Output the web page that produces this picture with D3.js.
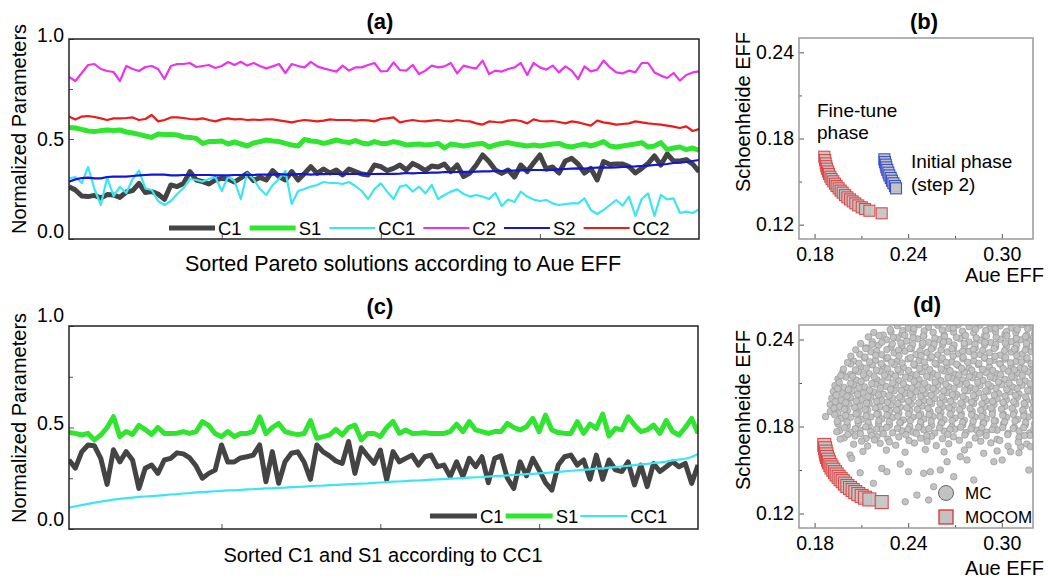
<!DOCTYPE html>
<html>
<head>
<meta charset="utf-8">
<script src="https://cdn.jsdelivr.net/npm/d3@7"></script>
<style>
  body { margin: 0; background: #fff; }
  text { font-family: "Liberation Sans", Arial, sans-serif; fill: #000; }
</style>
</head>
<body>
<svg id="chart" width="1048" height="578"></svg>
<script>
// ---- data: panel (a), sorted Pareto solutions (100 each) ----
const c1A = [0.262,0.245,0.215,0.212,0.218,0.205,0.222,0.22,0.208,0.235,0.242,0.278,0.232,0.237,0.225,0.198,0.27,0.262,0.278,0.337,0.295,0.287,0.275,0.295,0.303,0.3,
  0.285,0.305,0.328,0.292,0.308,0.295,0.342,0.312,0.295,0.337,0.295,0.328,0.362,0.328,0.35,0.33,0.345,0.32,0.35,0.337,0.325,0.32,0.37,0.362,
  0.342,0.353,0.37,0.345,0.378,0.362,0.342,0.365,0.36,0.375,0.337,0.37,0.312,0.33,0.37,0.42,0.387,0.345,0.328,0.345,0.31,0.37,0.337,0.38,0.42,
  0.35,0.36,0.33,0.39,0.403,0.375,0.33,0.353,0.295,0.387,0.372,0.375,0.375,0.362,0.33,0.353,0.378,0.415,0.37,0.425,0.39,0.39,0.397,0.375,0.337];
const s1A = [0.558,0.555,0.548,0.54,0.537,0.542,0.545,0.542,0.545,0.535,0.53,0.523,0.515,0.508,0.525,0.522,0.523,0.52,0.51,0.508,0.503,0.478,0.487,0.487,0.49,0.475,
  0.485,0.475,0.465,0.48,0.487,0.495,0.49,0.487,0.478,0.47,0.465,0.498,0.49,0.487,0.478,0.485,0.495,0.487,0.482,0.492,0.48,0.475,0.487,0.478,
  0.478,0.487,0.48,0.47,0.473,0.475,0.47,0.472,0.478,0.455,0.475,0.47,0.465,0.47,0.475,0.478,0.46,0.47,0.478,0.482,0.475,0.47,0.465,0.47,0.465,
  0.47,0.475,0.478,0.465,0.46,0.468,0.475,0.465,0.475,0.487,0.465,0.46,0.465,0.47,0.475,0.482,0.46,0.465,0.482,0.447,0.455,0.46,0.447,0.455,0.443];
const cc1A = [0.303,0.31,0.28,0.36,0.25,0.17,0.308,0.215,0.26,0.23,0.3,0.342,0.253,0.245,0.19,0.17,0.19,0.225,0.255,0.3,0.295,0.287,0.3,0.31,0.24,0.312,
  0.29,0.2,0.33,0.3,0.25,0.22,0.27,0.3,0.34,0.175,0.24,0.25,0.262,0.27,0.285,0.28,0.28,0.275,0.285,0.265,0.24,0.2,0.25,0.278,
  0.237,0.2,0.262,0.27,0.237,0.262,0.228,0.27,0.2,0.22,0.237,0.248,0.225,0.212,0.22,0.212,0.2,0.23,0.165,0.198,0.185,0.237,0.212,0.197,0.19,
  0.195,0.178,0.17,0.175,0.178,0.178,0.203,0.145,0.125,0.145,0.17,0.195,0.167,0.212,0.115,0.2,0.228,0.115,0.22,0.198,0.203,0.13,0.137,0.13,0.148];
const c2A = [0.81,0.79,0.83,0.87,0.875,0.85,0.84,0.835,0.79,0.865,0.85,0.84,0.86,0.865,0.85,0.80,0.865,0.875,0.875,0.88,0.86,0.865,0.87,0.855,0.865,0.885,
  0.87,0.886,0.867,0.88,0.865,0.853,0.863,0.875,0.83,0.875,0.865,0.858,0.886,0.863,0.853,0.845,0.837,0.867,0.842,0.858,0.858,0.87,0.88,0.838,
  0.84,0.883,0.845,0.842,0.87,0.825,0.842,0.867,0.858,0.863,0.88,0.828,0.867,0.858,0.853,0.892,0.825,0.842,0.837,0.85,0.858,0.88,0.82,0.88,0.858,
  0.847,0.867,0.833,0.863,0.842,0.80,0.863,0.838,0.847,0.892,0.858,0.833,0.828,0.842,0.833,0.88,0.88,0.833,0.817,0.805,0.83,0.792,0.82,0.833,0.838];
const s2A = [0.287,0.298,0.305,0.307,0.303,0.303,0.31,0.312,0.312,0.312,0.315,0.318,0.32,0.322,0.322,0.322,0.318,0.318,0.32,0.32,0.32,0.32,0.32,0.318,0.318,0.318,
  0.32,0.32,0.322,0.32,0.322,0.322,0.322,0.324,0.322,0.322,0.324,0.324,0.322,0.324,0.324,0.325,0.325,0.324,0.326,0.325,0.326,0.325,0.325,0.326,
  0.325,0.326,0.327,0.33,0.328,0.33,0.33,0.332,0.332,0.335,0.334,0.335,0.336,0.336,0.337,0.338,0.338,0.34,0.34,0.342,0.342,0.343,0.344,0.345,0.345,
  0.344,0.346,0.348,0.35,0.352,0.353,0.352,0.355,0.357,0.358,0.357,0.358,0.36,0.362,0.363,0.365,0.367,0.37,0.372,0.375,0.38,0.382,0.385,0.39,0.395];
const cc2A = [0.612,0.598,0.612,0.615,0.61,0.603,0.595,0.603,0.603,0.605,0.608,0.595,0.6,0.62,0.588,0.595,0.608,0.608,0.605,0.6,0.598,0.603,0.595,0.588,0.598,0.603,
  0.598,0.6,0.595,0.597,0.595,0.598,0.598,0.593,0.588,0.583,0.59,0.595,0.592,0.588,0.592,0.598,0.595,0.595,0.595,0.592,0.595,0.593,0.588,0.6,
  0.603,0.608,0.583,0.59,0.595,0.59,0.588,0.592,0.595,0.59,0.588,0.595,0.59,0.588,0.578,0.572,0.588,0.585,0.583,0.592,0.595,0.59,0.578,0.598,0.59,
  0.588,0.59,0.585,0.578,0.588,0.583,0.575,0.567,0.592,0.583,0.578,0.572,0.575,0.578,0.588,0.583,0.578,0.575,0.572,0.567,0.562,0.555,0.563,0.54,0.55];

// ---- data: panel (c), C1 and S1 sorted by CC1 ----
const c1C = [0.34,0.3,0.38,0.414,0.41,0.348,0.22,0.39,0.331,0.381,0.34,0.2,0.299,0.315,0.274,0.34,0.348,0.375,0.37,0.35,
  0.31,0.25,0.274,0.29,0.414,0.33,0.33,0.35,0.356,0.364,0.414,0.233,0.381,0.225,0.331,0.373,0.38,0.33,0.245,0.414,
  0.38,0.36,0.335,0.323,0.431,0.274,0.4,0.36,0.323,0.389,
  0.241,0.381,0.331,0.348,0.364,0.315,0.356,0.364,0.307,0.315,0.258,0.331,0.258,0.348,0.307,0.356,0.228,0.348,0.36,0.25,
  0.2,0.331,0.262,0.348,0.291,0.228,0.192,0.315,0.356,0.364,0.315,0.34,0.245,0.364,0.245,0.34,0.291,0.283,0.331,0.217,
  0.315,0.209,0.323,0.283,0.307,0.331,0.307,0.323,0.225,0.315];
const s1C = [0.476,0.471,0.463,0.471,0.439,0.463,0.5,0.553,0.455,0.48,0.466,0.51,0.49,0.466,0.5,0.471,0.471,0.472,0.48,0.471,
  0.48,0.529,0.51,0.47,0.455,0.48,0.455,0.47,0.471,0.48,0.553,0.47,0.5,0.52,0.48,0.471,0.465,0.47,0.534,0.447,
  0.455,0.463,0.491,0.463,0.5,0.512,0.439,0.471,0.471,0.455,
  0.5,0.53,0.471,0.488,0.471,0.472,0.474,0.471,0.471,0.471,0.48,0.517,0.48,0.529,0.488,0.48,0.471,0.48,0.48,0.52,
  0.5,0.488,0.504,0.545,0.48,0.561,0.488,0.475,0.471,0.471,0.529,0.471,0.517,0.496,0.566,0.458,0.496,0.488,0.553,0.512,
  0.48,0.488,0.512,0.471,0.534,0.48,0.463,0.5,0.545,0.471];
const cc1C = [0.105,0.112,0.118,0.124,0.13,0.135,0.14,0.145,0.148,0.152,0.155,0.158,0.16,0.162,0.164,0.167,0.17,0.172,0.175,0.177,
  0.18,0.182,0.184,0.186,0.188,0.19,0.191,0.193,0.195,0.196,0.198,0.2,0.201,0.203,0.204,0.206,0.207,0.209,0.211,0.213,
  0.214,0.216,0.217,0.219,0.221,0.222,0.224,0.225,0.227,0.229,0.231,0.233,0.234,0.236,0.238,0.239,0.241,0.243,0.244,0.246,
  0.248,0.249,0.251,0.253,0.255,0.256,0.258,0.26,0.262,0.264,0.266,0.268,0.27,0.272,0.274,0.276,0.279,0.281,0.284,0.287,
  0.289,0.291,0.294,0.297,0.299,0.302,0.305,0.308,0.311,0.315,0.318,0.321,0.325,0.328,0.332,0.338,0.342,0.346,0.355,0.369];

// ---- data: panels (b) and (d), Aue EFF vs Schoenheide EFF ----
const mocomAue = [0.1862,0.1867,0.1871,0.1875,0.1879,0.1886,0.1892,0.1901,0.1909,0.192,0.1931,0.1941,0.1954,0.1967,0.198,0.1995,0.201,0.2027,0.2044,0.2061,0.208,0.2102,0.2123,0.2151,0.223];
const mocomSch = [0.1673,0.165,0.1627,0.1608,0.159,0.1571,0.1553,0.1534,0.1518,0.1502,0.1485,0.1469,0.1453,0.1437,0.1423,0.1406,0.139,0.1376,0.1362,0.1348,0.1334,0.1321,0.1309,0.1297,0.1279];
const initAue = [0.2247,0.2251,0.2256,0.226,0.2266,0.2273,0.2279,0.2288,0.2296,0.2305,0.2315,0.2322];
const initSch = [0.1655,0.1636,0.1618,0.1599,0.1581,0.1562,0.1543,0.1525,0.1506,0.1488,0.1469,0.1453];

// Monte Carlo samples [Aue EFF, Schoenheide EFF]
const mcPoints = [
  [0.233,0.2495],[0.240,0.2478],[0.247,0.2502],[0.253,0.2485],[0.259,0.2498],[0.266,0.2476],[0.272,0.2501],[0.279,0.2488],[0.286,0.2499],[0.292,0.2472],[0.299,0.2494],[0.306,0.2481],[0.313,0.2503],[0.319,0.2486],
  [0.218,0.2448],[0.224,0.2431],[0.229,0.2452],[0.236,0.2437],[0.243,0.2445],[0.25,0.2425],[0.256,0.2449],[0.263,0.2433],[0.269,0.2451],[0.276,0.243],[0.282,0.2446],[0.289,0.2428],[0.296,0.2453],[0.302,0.2436],[0.309,0.2447],[0.316,0.2429],[0.321,0.2442],
  [0.217,0.2385],[0.226,0.2398],[0.233,0.2412],[0.239,0.2389],[0.246,0.2404],[0.253,0.2381],[0.26,0.2399],[0.266,0.2387],[0.273,0.2407],[0.279,0.2383],[0.286,0.2396],[0.293,0.2379],[0.299,0.2402],[0.306,0.2385],[0.312,0.2398],[0.318,0.2391],
  [0.213,0.2342],[0.221,0.2361],[0.229,0.2347],[0.236,0.2355],[0.242,0.2337],[0.249,0.2359],[0.256,0.2344],[0.262,0.2362],[0.269,0.2339],[0.276,0.2353],[0.283,0.2341],[0.289,0.2364],[0.296,0.2348],[0.303,0.2356],[0.309,0.2335],[0.316,0.2351],[0.321,0.2362],
  [0.209,0.2298],[0.216,0.2316],[0.223,0.2295],[0.231,0.2308],[0.238,0.2319],[0.245,0.2296],[0.252,0.2311],[0.259,0.2293],[0.265,0.2314],[0.272,0.2301],[0.279,0.2318],[0.286,0.2297],[0.292,0.2309],[0.299,0.2292],[0.306,0.2313],[0.313,0.2299],[0.319,0.2316],
  [0.205,0.2251],[0.212,0.2272],[0.219,0.2256],[0.226,0.2269],[0.233,0.2249],[0.24,0.2266],[0.247,0.2254],[0.254,0.2273],[0.261,0.2258],[0.268,0.2246],[0.275,0.2267],[0.282,0.2252],[0.289,0.2271],[0.295,0.2257],[0.302,0.2265],[0.309,0.2248],[0.316,0.2262],
  [0.203,0.2231],[0.21,0.2209],[0.217,0.2225],[0.224,0.2211],[0.231,0.2228],[0.237,0.2206],[0.244,0.2222],[0.251,0.2213],[0.258,0.2229],[0.265,0.2207],[0.272,0.2221],[0.279,0.2204],[0.285,0.2226],[0.292,0.2212],[0.299,0.2231],[0.306,0.2215],[0.312,0.2203],[0.319,0.2224],
  [0.198,0.2173],[0.203,0.2158],[0.208,0.2179],[0.215,0.2164],[0.222,0.2181],[0.229,0.2162],[0.235,0.2176],[0.242,0.2159],[0.249,0.2178],[0.256,0.2166],[0.263,0.2183],[0.27,0.2161],[0.276,0.2175],[0.283,0.2157],[0.29,0.2172],[0.297,0.2163],[0.304,0.2182],[0.31,0.2168],[0.317,0.2177],
  [0.195,0.2128],[0.2,0.2141],[0.207,0.2119],[0.213,0.2135],[0.22,0.2122],[0.227,0.2138],[0.234,0.2117],[0.241,0.2131],[0.247,0.2124],[0.254,0.2139],[0.261,0.2115],[0.268,0.2133],[0.275,0.2121],[0.281,0.2136],[0.288,0.2118],[0.295,0.2132],[0.302,0.2125],[0.308,0.2137],[0.315,0.2114],[0.321,0.2129],
  [0.193,0.2082],[0.199,0.2069],[0.205,0.2088],[0.212,0.2073],[0.219,0.2091],[0.226,0.2076],[0.232,0.2084],[0.239,0.2068],[0.246,0.2089],[0.253,0.2071],[0.259,0.2086],[0.266,0.2074],[0.273,0.2092],[0.28,0.2067],[0.286,0.2083],[0.293,0.2077],[0.3,0.209],[0.307,0.2072],[0.313,0.2085],[0.319,0.2069],
  [0.192,0.2041],[0.198,0.2027],[0.204,0.2045],[0.211,0.2031],[0.218,0.2038],[0.224,0.2023],[0.231,0.2047],[0.238,0.2029],[0.245,0.2042],[0.251,0.2026],[0.258,0.2044],[0.265,0.2033],[0.271,0.2021],[0.278,0.2046],[0.285,0.2032],[0.291,0.2043],[0.298,0.2028],[0.305,0.2039],[0.311,0.2024],[0.318,0.2045],
  [0.191,0.1994],[0.197,0.1981],[0.203,0.1999],[0.21,0.1984],[0.216,0.2002],[0.223,0.1978],[0.23,0.1996],[0.236,0.1986],[0.243,0.2001],[0.25,0.1979],[0.257,0.1993],[0.263,0.1983],[0.27,0.2003],[0.277,0.1988],[0.283,0.1997],[0.29,0.1976],[0.297,0.1992],[0.303,0.1985],[0.31,0.2001],[0.316,0.1982],[0.321,0.1996],
  [0.19,0.1952],[0.196,0.1938],[0.202,0.1955],[0.209,0.194],[0.215,0.1957],[0.222,0.1936],[0.229,0.1949],[0.235,0.1934],[0.242,0.1954],[0.249,0.1941],[0.255,0.1958],[0.262,0.1937],[0.269,0.195],[0.275,0.1943],[0.282,0.1959],[0.289,0.1935],[0.295,0.1951],[0.302,0.1939],[0.309,0.1956],[0.315,0.1942],[0.321,0.1953],
  [0.19,0.1903],[0.195,0.1891],[0.201,0.1909],[0.208,0.1894],[0.214,0.1912],[0.221,0.1888],[0.228,0.1906],[0.234,0.1893],[0.241,0.191],[0.248,0.1886],[0.254,0.1902],[0.261,0.1895],[0.268,0.1913],[0.274,0.1889],[0.281,0.1904],[0.288,0.1892],[0.294,0.1908],[0.301,0.1885],[0.308,0.19],[0.314,0.1896],[0.32,0.1911],
  [0.187,0.1868],[0.197,0.1855],[0.203,0.1863],[0.21,0.1849],[0.216,0.1866],[0.223,0.1852],[0.23,0.1861],[0.237,0.1845],[0.243,0.1864],[0.25,0.1851],[0.256,0.1869],[0.263,0.1846],[0.27,0.1858],[0.276,0.1843],[0.283,0.1865],[0.29,0.1853],[0.296,0.1839],[0.303,0.1862],[0.31,0.1848],[0.317,0.1866],
  [0.195,0.1818],[0.201,0.1806],[0.208,0.1822],[0.215,0.1803],[0.221,0.1817],[0.228,0.1809],[0.235,0.1825],[0.241,0.1801],[0.248,0.1814],[0.255,0.1807],[0.261,0.1821],[0.268,0.1798],[0.275,0.1812],[0.281,0.1804],[0.288,0.1823],[0.295,0.1802],[0.301,0.1816],[0.308,0.1795],[0.315,0.1811],[0.321,0.1818],
  [0.196,0.1772],[0.203,0.1759],[0.209,0.1776],[0.216,0.1764],[0.223,0.1779],[0.23,0.1757],[0.236,0.1771],[0.243,0.1762],[0.25,0.1778],[0.257,0.1755],[0.263,0.1768],[0.27,0.1781],[0.277,0.1758],[0.284,0.1773],[0.29,0.1761],[0.297,0.1775],[0.304,0.1753],[0.311,0.1769],[0.318,0.1756],
  [0.199,0.1722],[0.206,0.1735],[0.213,0.1718],[0.22,0.1731],[0.227,0.1714],[0.234,0.1728],[0.248,0.1719],[0.255,0.1733],[0.262,0.1716],[0.269,0.1729],[0.283,0.1721],[0.29,0.1736],[0.297,0.1712],[0.311,0.1725],[0.318,0.1739],
  [0.205,0.1678],[0.214,0.1665],[0.222,0.1684],[0.232,0.1671],[0.244,0.1686],[0.258,0.1668],[0.266,0.1681],[0.279,0.1673],[0.293,0.1687],[0.304,0.1664],[0.316,0.1679],
  [0.211,0.1628],[0.226,0.1637],[0.238,0.1622],[0.251,0.1641],[0.263,0.1625],[0.276,0.1638],[0.297,0.1631],[0.311,0.1619],
  [0.1942,0.1764],[0.1964,0.1713],[0.2027,0.1603],[0.2038,0.158],[0.2092,0.1481],[0.2177,0.1408],[0.2231,0.1511],[0.2263,0.1488],[0.2349,0.1541],[0.2381,0.1281],
  [0.2402,0.1488],[0.2456,0.1327],[0.2499,0.1477],[0.2531,0.1293],[0.2542,0.1488],[0.2563,0.1385],[0.2606,0.15],[0.2649,0.1557],[0.2692,0.1454],[0.2734,0.1592],
  [0.2777,0.1569],[0.282,0.1431],[0.2884,0.1615],[0.2949,0.1557],[0.3002,0.1569],[0.3056,0.1626],[0.312,0.1661],[0.3173,0.15],[0.3184,0.1661],
  [0.2285,0.2468],[0.2365,0.2461],[0.2437,0.2474],[0.2502,0.2459],[0.2618,0.2466],[0.2689,0.2479],[0.2748,0.2457],[0.2832,0.2471],[0.2897,0.2462],[0.2958,0.2477],[0.3031,0.2455],[0.3099,0.2469],[0.3166,0.2474],
  [0.2145,0.2418],[0.2213,0.2426],[0.2304,0.2415],[0.2378,0.2429],[0.2431,0.2412],[0.2497,0.2424],[0.2571,0.2409],[0.2632,0.2421],[0.2709,0.2414],[0.2768,0.2427],[0.2836,0.2411],[0.2901,0.2423],[0.2964,0.2416],[0.3033,0.2425],[0.3092,0.2408],[0.3152,0.242],[0.3205,0.2413],
  [0.2095,0.2372],[0.2168,0.2366],[0.2231,0.2381],[0.2298,0.2369],[0.2352,0.2377],[0.2428,0.2364],[0.2494,0.2375],[0.2566,0.2368],[0.2627,0.2383],[0.2694,0.2362],[0.2759,0.2374],[0.2828,0.2367],[0.2892,0.238],[0.2961,0.2365],[0.3022,0.2376],[0.3094,0.2361],[0.3158,0.2373],
  [0.2064,0.2329],[0.2129,0.2337],[0.2198,0.2322],[0.2263,0.2331],[0.2338,0.2326],[0.2411,0.2339],[0.2476,0.2321],[0.2548,0.2334],[0.2611,0.2328],[0.2681,0.2336],[0.2749,0.2319],[0.2818,0.2332],[0.2878,0.2325],[0.2951,0.2338],[0.3018,0.2323],[0.3082,0.2335],[0.3151,0.2327],[0.3212,0.2334],
  [0.2032,0.2285],[0.2123,0.2279],[0.2191,0.2291],[0.2268,0.2276],[0.2341,0.2287],[0.2414,0.2274],[0.2482,0.2289],[0.2551,0.2281],[0.2619,0.2272],[0.2688,0.2286],[0.2753,0.2278],[0.2822,0.2292],[0.2889,0.2275],[0.2957,0.2284],[0.3024,0.2277],[0.3096,0.2289],[0.3162,0.2273],
  [0.2011,0.2241],[0.2084,0.2236],[0.2152,0.2247],[0.2227,0.2233],[0.2293,0.2244],[0.2361,0.2238],[0.2436,0.2231],[0.2503,0.2245],[0.2572,0.2237],[0.2643,0.2242],[0.2711,0.2229],[0.2781,0.2243],[0.2853,0.2235],[0.2922,0.2248],[0.2988,0.2232],[0.3055,0.2239],[0.3126,0.2246],[0.3188,0.2234],
  [0.1985,0.2196],[0.2062,0.2191],[0.2131,0.2203],[0.2196,0.2188],[0.2267,0.2199],[0.2334,0.2193],[0.2402,0.2186],[0.2473,0.2201],[0.2538,0.2192],[0.2611,0.2197],[0.2669,0.2185],[0.2742,0.2202],[0.2808,0.2189],[0.2876,0.2195],[0.2942,0.2187],[0.3009,0.22],[0.3081,0.2191],[0.3146,0.2198],[0.3207,0.2186],
  [0.1968,0.2151],[0.2044,0.2146],[0.2113,0.2157],[0.2182,0.2143],[0.2248,0.2154],[0.2318,0.2148],[0.2383,0.2141],[0.2452,0.2156],[0.2519,0.2147],[0.2588,0.2153],[0.2655,0.2139],[0.2724,0.2155],[0.2791,0.2144],[0.2858,0.2152],[0.2926,0.2142],[0.2992,0.2158],[0.3063,0.2145],[0.3131,0.2153],[0.3195,0.2149],
  [0.1958,0.2104],[0.2031,0.2099],[0.2098,0.2111],[0.2166,0.2096],[0.2232,0.2108],[0.2301,0.2101],[0.2369,0.2094],[0.2438,0.211],[0.2504,0.2098],[0.2573,0.2106],[0.2641,0.2093],[0.2709,0.2109],[0.2774,0.2097],[0.2845,0.2105],[0.2912,0.2092],[0.2978,0.2108],[0.3047,0.2099],[0.3114,0.2107],[0.3181,0.2095],
  [0.1948,0.2061],[0.2017,0.2054],[0.2084,0.2066],[0.2153,0.2051],[0.2221,0.2063],[0.2287,0.2057],[0.2356,0.2049],[0.2423,0.2065],[0.2491,0.2053],[0.2559,0.2061],[0.2627,0.2047],[0.2694,0.2064],[0.2762,0.2052],[0.2829,0.2059],[0.2897,0.2046],[0.2963,0.2063],[0.3032,0.2055],[0.3099,0.2062],[0.3166,0.2049],
  [0.1939,0.2016],[0.2008,0.2009],[0.2076,0.2021],[0.2142,0.2006],[0.2209,0.2018],[0.2277,0.2012],[0.2346,0.2004],[0.2413,0.2019],[0.2481,0.2008],[0.2547,0.2016],[0.2616,0.2003],[0.2683,0.2019],[0.2751,0.2007],[0.2818,0.2014],[0.2886,0.2002],[0.2952,0.2018],[0.3021,0.201],[0.3088,0.2016],[0.3153,0.2005],[0.3208,0.2013],
  [0.1932,0.1971],[0.1999,0.1964],[0.2067,0.1976],[0.2133,0.1961],[0.2198,0.1973],[0.2266,0.1967],[0.2333,0.1959],[0.2402,0.1974],[0.2468,0.1963],[0.2536,0.1971],[0.2604,0.1958],[0.2671,0.1974],[0.2738,0.1962],[0.2806,0.1969],[0.2873,0.1957],[0.2941,0.1973],[0.3008,0.1965],[0.3076,0.1971],[0.3143,0.196],[0.3202,0.1968],
  [0.1924,0.1926],[0.1991,0.1919],[0.2057,0.1931],[0.2124,0.1916],[0.2189,0.1928],[0.2257,0.1922],[0.2325,0.1914],[0.2391,0.1929],[0.2459,0.1918],[0.2527,0.1926],[0.2594,0.1913],[0.2662,0.1929],[0.2729,0.1917],[0.2797,0.1924],[0.2864,0.1912],[0.2931,0.1928],[0.2998,0.192],[0.3066,0.1926],[0.3133,0.1915],[0.3197,0.1923],
  [0.1929,0.1881],[0.1998,0.1876],[0.2066,0.1887],[0.2131,0.1873],[0.2199,0.1884],[0.2264,0.1878],[0.2333,0.1871],[0.2402,0.1886],[0.2468,0.1875],[0.2534,0.1882],[0.2603,0.1869],[0.2669,0.1885],[0.2738,0.1874],[0.2806,0.1881],[0.2872,0.1868],[0.2939,0.1884],[0.3006,0.1877],[0.3073,0.1883],[0.3141,0.1872],[0.3203,0.1879],
  [0.1945,0.1835],[0.2008,0.1831],[0.2077,0.1842],[0.2143,0.1828],[0.2211,0.1839],[0.2278,0.1833],[0.2346,0.1826],[0.2413,0.1841],[0.2479,0.183],[0.2547,0.1837],[0.2614,0.1824],[0.2681,0.184],[0.2749,0.1829],[0.2816,0.1836],[0.2884,0.1823],[0.2951,0.1839],[0.3018,0.1832],[0.3085,0.1838],[0.3153,0.1827],
  [0.1992,0.1791],[0.2061,0.1785],[0.2128,0.1797],[0.2196,0.1782],[0.2262,0.1794],[0.2331,0.1788],[0.2398,0.178],[0.2466,0.1795],[0.2532,0.1784],[0.2601,0.1791],[0.2667,0.1779],[0.2736,0.1794],[0.2803,0.1783],[0.2871,0.179],[0.2938,0.1778],[0.3006,0.1793],[0.3073,0.1786],[0.3141,0.1792],[0.3205,0.1781],
  [0.2013,0.1745],[0.2094,0.1751],[0.2167,0.1739],[0.2241,0.175],[0.2385,0.1743],[0.2452,0.1752],[0.2519,0.1737],[0.2654,0.1746],[0.2763,0.1741],[0.2858,0.1753],[0.3038,0.1744],[0.3146,0.1738],
  [0.2101,0.1699],[0.2184,0.1707],[0.2279,0.1694],[0.2405,0.1703],[0.2521,0.1697],[0.2728,0.1705],[0.2865,0.1698],[0.2987,0.1704],[0.3106,0.1693]
];

const svg = d3.select("#chart");
const FONT_TICK = "19.5px", FONT_TITLE = "20px";

// ---------- helpers ----------
function lineFrame(box, id, labelShift) {
  const x = d3.scaleLinear().domain([1, 100]).range([box.x0, box.x1]);
  const y = d3.scaleLinear().domain([0, 1]).range([box.y1, box.y0]);

  svg.append("clipPath").attr("id", id)
    .append("rect").attr("x", box.x0).attr("y", box.y0)
    .attr("width", box.x1 - box.x0).attr("height", box.y1 - box.y0);

  // y axis major + minor
  const yMaj = svg.append("g").attr("transform", `translate(${box.x0},0)`)
    .call(d3.axisLeft(y).tickValues([0, 0.5, 1]).tickSizeInner(-5).tickSizeOuter(0)
      .tickPadding(5).tickFormat(d3.format(".1f")));
  yMaj.selectAll("text").style("font-size", FONT_TICK)
    .attr("transform", (d, i) => `translate(0,${labelShift[i]})`);
  svg.append("g").attr("transform", `translate(${box.x0},0)`)
    .call(d3.axisLeft(y).tickValues([0.25, 0.75]).tickSizeInner(-4).tickSizeOuter(0).tickFormat(""));
  // x axis ticks, no labels
  svg.append("g").attr("transform", `translate(0,${box.y1})`)
    .call(d3.axisBottom(x).tickValues([25, 50, 75]).tickSizeInner(-5).tickSizeOuter(0).tickFormat(""));
  svg.selectAll(".domain").remove();

  return { x, y };
}

function drawSeries(sc, id, values, color, width) {
  const line = d3.line().x((d, i) => sc.x(i + 1)).y(d => sc.y(d));
  svg.append("path").datum(values)
    .attr("clip-path", `url(#${id})`)
    .attr("d", line)
    .attr("fill", "none")
    .attr("stroke", color)
    .attr("stroke-width", width)
    .attr("stroke-linejoin", "round");
}

function drawLegend(items, x0, y0, lineLen, gap) {
  let x = x0;
  items.forEach(it => {
    svg.append("line").attr("x1", x).attr("x2", x + lineLen)
      .attr("y1", y0).attr("y2", y0)
      .attr("stroke", it.color).attr("stroke-width", it.width);
    const t = svg.append("text").attr("x", x + lineLen + 3).attr("y", y0 + 6.5)
      .style("font-size", "18.5px").text(it.name);
    x += lineLen + 3 + t.node().getComputedTextLength() + gap;
  });
}

function frame(box, color) {
  svg.append("rect").attr("x", box.x0).attr("y", box.y0)
    .attr("width", box.x1 - box.x0).attr("height", box.y1 - box.y0)
    .attr("fill", "none").attr("stroke", color).attr("stroke-width", 1.5);
}

function scatterFrame(box) {
  const x = d3.scaleLinear().domain([0.17, 0.32]).range([box.x0, box.x1]);
  const y = d3.scaleLinear().domain([0.11, 0.25]).range([box.y1, box.y0]);

  const gx = svg.append("g").attr("transform", `translate(0,${box.y1})`)
    .call(d3.axisBottom(x).tickValues([0.18, 0.24, 0.30]).tickSizeInner(-5).tickSizeOuter(0)
      .tickPadding(8).tickFormat(d3.format(".2f")));
  gx.selectAll("text").style("font-size", FONT_TICK);
  svg.append("g").attr("transform", `translate(0,${box.y1})`)
    .call(d3.axisBottom(x).tickValues([0.21, 0.27]).tickSizeInner(-3).tickSizeOuter(0).tickFormat(""));
  const gy = svg.append("g").attr("transform", `translate(${box.x0},0)`)
    .call(d3.axisLeft(y).tickValues([0.12, 0.18, 0.24]).tickSizeInner(-5).tickSizeOuter(0)
      .tickPadding(5).tickFormat(d3.format(".2f")));
  gy.selectAll("text").style("font-size", FONT_TICK);
  svg.append("g").attr("transform", `translate(${box.x0},0)`)
    .call(d3.axisLeft(y).tickValues([0.15, 0.21]).tickSizeInner(-3).tickSizeOuter(0).tickFormat(""));
  svg.selectAll(".domain").remove();
  svg.selectAll(".tick line").attr("stroke", "#555");

  return { x, y };
}

function drawSquares(sc, xs, ys, size, stroke, id) {
  svg.append("g").attr("clip-path", `url(#${id})`)
    .selectAll("rect").data(xs).enter().append("rect")
    .attr("x", (d, i) => sc.x(d) - size / 2)
    .attr("y", (d, i) => sc.y(ys[i]) - size / 2)
    .attr("width", size).attr("height", size)
    .attr("fill", "#c3c3c3").attr("fill-opacity", 0.92)
    .attr("stroke", stroke).attr("stroke-width", 1.1);
}

function clip(box, id) {
  svg.append("clipPath").attr("id", id)
    .append("rect").attr("x", box.x0).attr("y", box.y0)
    .attr("width", box.x1 - box.x0).attr("height", box.y1 - box.y0);
}

// ---------- panel (a) ----------
const boxA = { x0: 69, x1: 699, y0: 39, y1: 239 };
const scA = lineFrame(boxA, "clipA", [-8, 0, -4]);
const seriesA = [
  { name: "C1", values: c1A, color: "#444444", width: 5 },
  { name: "S1", values: s1A, color: "#2fe52f", width: 5 },
  { name: "CC1", values: cc1A, color: "#3ae6f2", width: 2.2 },
  { name: "C2", values: c2A, color: "#ec33ec", width: 2.2 },
  { name: "S2", values: s2A, color: "#1414dc", width: 2.2 },
  { name: "CC2", values: cc2A, color: "#ee1a1a", width: 2.2 }
];
seriesA.forEach(s => drawSeries(scA, "clipA", s.values, s.color, s.width));
frame(boxA, "#222");
drawLegend(seriesA, 169, 228, 46, 8);

svg.append("text").attr("x", 380).attr("y", 29).attr("text-anchor", "middle")
  .style("font-size", "22px").style("font-weight", "bold").text("(a)");
svg.append("text").attr("x", 403).attr("y", 271).attr("text-anchor", "middle")
  .style("font-size", "21.5px").text("Sorted Pareto solutions according to Aue EFF");
svg.append("text").attr("transform", "translate(26,129) rotate(-90)").attr("text-anchor", "middle")
  .style("font-size", FONT_TITLE).text("Normalized Parameters");

// ---------- panel (c) ----------
const boxC = { x0: 69, x1: 698, y0: 326, y1: 529 };
const scC = lineFrame(boxC, "clipC", [-10, -4, -11]);
const seriesC = [
  { name: "C1", values: c1C, color: "#444444", width: 5 },
  { name: "S1", values: s1C, color: "#2fe52f", width: 5 },
  { name: "CC1", values: cc1C, color: "#3ae6f2", width: 2.2 }
];
seriesC.forEach(s => drawSeries(scC, "clipC", s.values, s.color, s.width));
frame(boxC, "#222");
drawLegend(seriesC, 430, 516, 47, 2);

svg.append("text").attr("x", 380).attr("y", 314).attr("text-anchor", "middle")
  .style("font-size", "22px").style("font-weight", "bold").text("(c)");
svg.append("text").attr("x", 383).attr("y", 562).attr("text-anchor", "middle")
  .style("font-size", FONT_TITLE).text("Sorted C1 and S1 according to CC1");
svg.append("text").attr("transform", "translate(26,418) rotate(-90)").attr("text-anchor", "middle")
  .style("font-size", FONT_TITLE).text("Normalized Parameters");

// ---------- panel (b) ----------
const boxB = { x0: 799, x1: 1033, y0: 38, y1: 239 };
clip(boxB, "clipB");
const scB = scatterFrame(boxB);
drawSquares(scB, mocomAue, mocomSch, 11, "#e04848", "clipB");
drawSquares(scB, initAue, initSch, 11, "#3d50cc", "clipB");
frame(boxB, "#999");

svg.append("text").attr("x", 924).attr("y", 29).attr("text-anchor", "middle")
  .style("font-size", "22px").style("font-weight", "bold").text("(b)");
svg.append("text").attr("x", 1044).attr("y", 282).attr("text-anchor", "end")
  .style("font-size", FONT_TITLE).text("Aue EFF");
svg.append("text").attr("transform", "translate(750,112) rotate(-90)").attr("text-anchor", "middle")
  .style("font-size", FONT_TITLE).text("Schoenheide EFF");
svg.append("text").attr("x", 817).attr("y", 117).style("font-size", "19px").text("Fine-tune");
svg.append("text").attr("x", 817).attr("y", 139).style("font-size", "19px").text("phase");
svg.append("text").attr("x", 911).attr("y", 168).style("font-size", "19px").text("Initial phase");
svg.append("text").attr("x", 911).attr("y", 191).style("font-size", "19px").text("(step 2)");

// ---------- panel (d) ----------
const boxD = { x0: 799, x1: 1033, y0: 325, y1: 528 };
clip(boxD, "clipD");
const scD = scatterFrame(boxD);
svg.append("g").attr("clip-path", "url(#clipD)")
  .selectAll("circle").data(mcPoints).enter().append("circle")
  .attr("cx", d => scD.x(d[0]))
  .attr("cy", d => scD.y(d[1]))
  .attr("r", 3.3)
  .attr("fill", "#c2c2c2")
  .attr("stroke", "#8f8f8f")
  .attr("stroke-width", 0.6);
drawSquares(scD, mocomAue, mocomSch, 13, "#e04848", "clipD");
frame(boxD, "#999");

// legend (d)
svg.append("circle").attr("cx", 946).attr("cy", 493).attr("r", 7.5)
  .attr("fill", "#c2c2c2").attr("stroke", "#666").attr("stroke-width", 1);
svg.append("text").attr("x", 965).attr("y", 499).style("font-size", "17px").text("MC");
svg.append("rect").attr("x", 939).attr("y", 510).attr("width", 14).attr("height", 14)
  .attr("fill", "#c2c2c2").attr("stroke", "#e02020").attr("stroke-width", 1.2);
svg.append("text").attr("x", 965).attr("y", 523).style("font-size", "17px").text("MOCOM");

svg.append("text").attr("x", 927).attr("y", 312).attr("text-anchor", "middle")
  .style("font-size", "22px").style("font-weight", "bold").text("(d)");
svg.append("text").attr("x", 1044).attr("y", 575).attr("text-anchor", "end")
  .style("font-size", FONT_TITLE).text("Aue EFF");
svg.append("text").attr("transform", "translate(750,410) rotate(-90)").attr("text-anchor", "middle")
  .style("font-size", FONT_TITLE).text("Schoenheide EFF");
</script>
</body>
</html>
